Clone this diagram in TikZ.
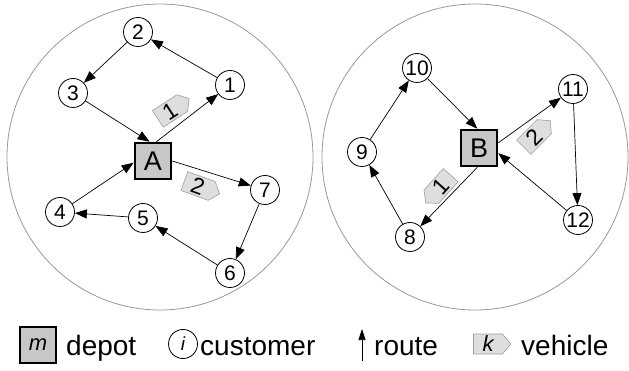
\documentclass[tikz,border=0pt]{standalone}
\usepackage{fontspec}
\setmainfont{Liberation Sans}
\usetikzlibrary{arrows.meta,shapes.symbols}
\begin{document}
\begin{tikzpicture}[x=1pt,y=-1pt,
  cust/.style={circle,draw,line width=0.8pt,fill=white,minimum size=29pt,inner sep=0pt,
    font=\fontsize{21}{21}\selectfont},
  depot/.style={rectangle,draw,line width=2.6pt,fill=black!22,minimum size=36pt,inner sep=0pt,
    font=\fontsize{27}{27}\selectfont},
  veh/.style={signal,signal to=east,signal pointer angle=100,draw=black!38,fill=black!13,
    line width=0.6pt,inner xsep=8pt,inner ysep=2pt,
    font=\fontsize{23}{23}\selectfont},
  route/.style={line width=0.7pt,-{Triangle[length=12pt,width=9pt]}},
  zone/.style={draw=black!40,line width=0.8pt},
  legtext/.style={anchor=base west,inner sep=0pt,font=\fontsize{28}{28}\selectfont}]

% canvas
\fill[white] (0,0) rectangle (629,371);
\useasboundingbox (0,0) rectangle (629,371);

% service zones
\draw[zone] (160,157) circle[radius=153];
\draw[zone] (475,157) circle[radius=153];

% zone A
\node[depot] (A) at (153,161) {A};
\node[cust] (n1) at (230,85) {1};
\node[cust] (n2) at (138,32) {2};
\node[cust] (n3) at (73,93) {3};
\node[cust] (n4) at (60,212) {4};
\node[cust] (n5) at (143,218) {5};
\node[cust] (n6) at (230,273) {6};
\node[cust] (n7) at (265,190) {7};

\draw[route] (n1) -- (n2);
\draw[route] (n2) -- (n3);
\draw[route] (n3) -- (A.100);
\draw[route] (A.80) -- (n1);
\draw[route] (A.east) -- (n7);
\draw[route] (n7) -- (n6);
\draw[route] (n6) -- (n5);
\draw[route] (n5) -- (n4);
\draw[route] (n4) -- (A.185);

\node[veh,rotate=33] (vA1) at (170,111) {\makebox[13pt]{1}};
\node[veh,rotate=-20] (vA2) at (198,186) {\makebox[13pt]{2}};

% zone B
\node[depot] (B) at (479,148) {B};
\node[cust] (n8) at (410,237) {8};
\node[cust] (n9) at (362,152) {9};
\node[cust] (n10) at (417,68) {10};
\node[cust] (n11) at (573,89) {11};
\node[cust] (n12) at (578,220) {12};

\draw[route] (n10) -- (B.95);
\draw[route] (B.15) -- (n11);
\draw[route] (n11) -- (n12);
\draw[route] (n12) -- (B.345);
\draw[route] (B.265) -- (n8);
\draw[route] (n8) -- (n9);
\draw[route] (n9) -- (n10);

\node[veh,rotate=45] (vB2) at (534,137) {\makebox[13pt]{2}};
\node[veh,signal to=west,rotate=48] (vB1) at (441,186) {\makebox[13pt]{1}};

% legend
\node[depot,font=\fontsize{22}{22}\selectfont\itshape] (lm) at (38,345) {m};
\node[legtext] (ld) at (66,355) {depot};
\node[cust,font=\fontsize{19}{19}\selectfont\itshape] (li) at (183,344) {i};
\node[legtext] (lc) at (200,355) {customer};
\coordinate (ra) at (362,361);
\coordinate (rb) at (362,329);
\draw[line width=0.7pt,-{Triangle[length=11pt,width=7pt]}] (ra) -- (rb);
\node[legtext] (lr) at (374,355) {route};
\node[veh,font=\fontsize{22}{22}\selectfont\itshape] (lk) at (488,344) {\makebox[13pt]{k}};
\node[legtext] (lv) at (521,355) {vehicle};
\end{tikzpicture}
\end{document}
